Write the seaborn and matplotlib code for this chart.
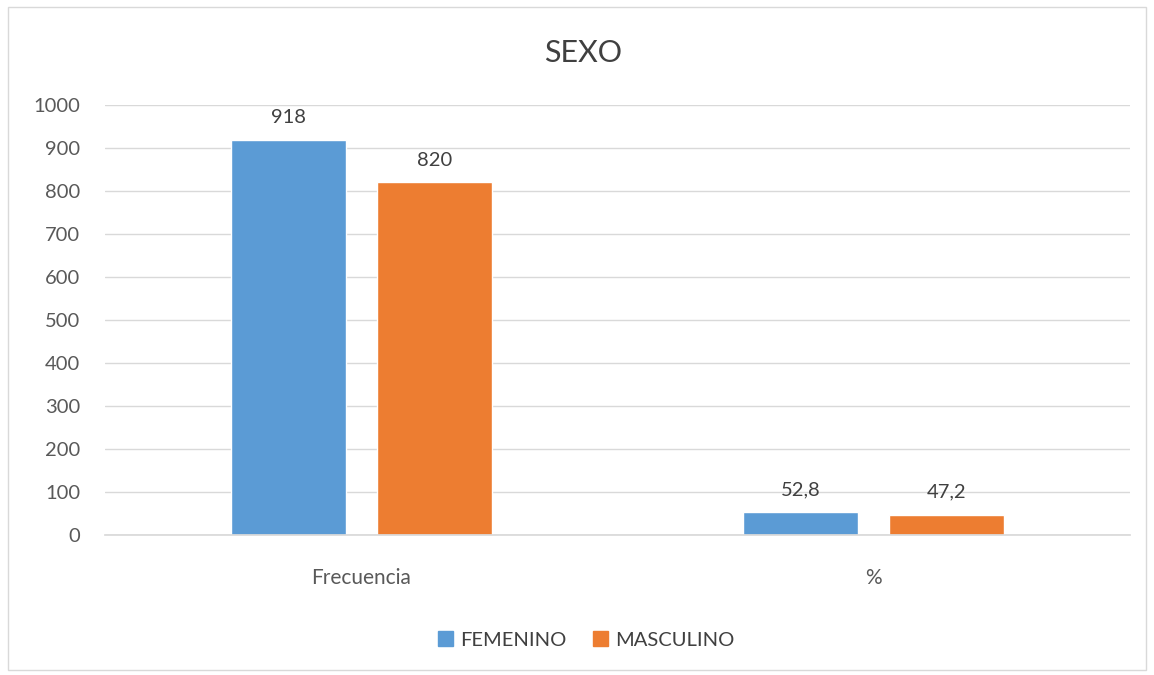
import pandas as pd
import seaborn as sns
import matplotlib.pyplot as plt
from matplotlib.patches import Rectangle

# data
categorias = ['Frecuencia', '%']
femenino = [918, 52.8]
masculino = [820, 47.2]
etiquetas_fem = ['918', '52,8']
etiquetas_masc = ['820', '47,2']
y_ticks = [0, 100, 200, 300, 400, 500, 600, 700, 800, 900, 1000]

df = pd.DataFrame({
    'categoria': categorias * 2,
    'sexo': ['FEMENINO'] * 2 + ['MASCULINO'] * 2,
    'valor': femenino + masculino,
})

sns.set_theme(style='white')
plt.rcParams['font.family'] = ['Lato', 'DejaVu Sans']

fig = plt.figure(figsize=(11.54, 6.75), dpi=100)
ax = fig.add_axes([0.091, 0.2074, 0.888, 0.637])

palette = {'FEMENINO': '#5B9BD5', 'MASCULINO': '#ED7D31'}
sns.barplot(data=df, x='categoria', y='valor', hue='sexo', palette=palette,
            width=0.57, gap=0.212, ax=ax, legend=False, saturation=1)

# value labels
for cont, labs in zip(ax.containers, [etiquetas_fem, etiquetas_masc]):
    ax.bar_label(cont, labels=labs, padding=10, fontsize=14.5, color='#404040')

ax.set_ylim(0, 1000)
ax.set_xlim(-0.5, 1.5)
ax.set_yticks(y_ticks)
ax.tick_params(axis='y', length=0, labelsize=14.5, labelcolor='#595959', pad=18)
ax.tick_params(axis='x', length=0, labelsize=15, labelcolor='#595959', pad=24)
ax.set_xlabel('')
ax.set_ylabel('')
ax.yaxis.grid(True, color='#D9D9D9', linewidth=1)
ax.set_axisbelow(True)
for s in ['top', 'right', 'left']:
    ax.spines[s].set_visible(False)
ax.spines['bottom'].set_color('#D9D9D9')

fig.text(0.505, 0.922, 'SEXO', ha='center', va='center', fontsize=22, color='#404040')

# legend
handles = [Rectangle((0, 0), 1, 1, color=palette[k]) for k in palette]
fig.legend(handles, list(palette.keys()), loc='center', bbox_to_anchor=(0.508, 0.052),
           ncol=2, frameon=False, fontsize=14.5, handlelength=0.75, handleheight=0.75,
           handletextpad=0.35, columnspacing=1.3, labelcolor='#404040')

# outer border
fig.patches.append(Rectangle((0.007, 0.007), 0.986, 0.982, transform=fig.transFigure,
                             fill=False, edgecolor='#D9D9D9', linewidth=1))

fig.savefig('out.png', dpi=100)
